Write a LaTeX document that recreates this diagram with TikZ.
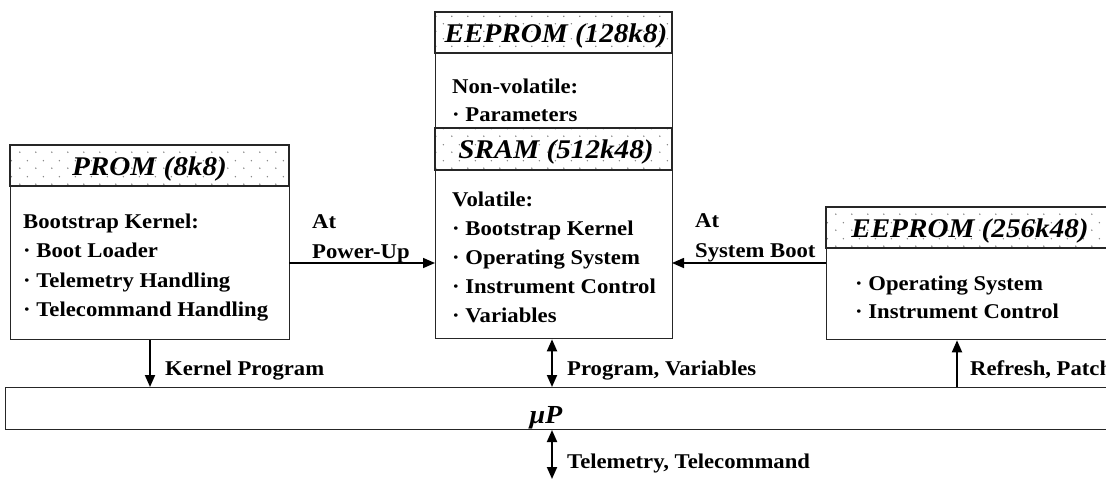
\documentclass[tikz,border=0pt]{standalone}
\usepackage{fontspec}
\setmainfont{Liberation Serif}[FakeStretch=1.08]
\usetikzlibrary{patterns.meta,arrows.meta}
\tikzdeclarepattern{
  name=hdrdots,
  type=uncolored,
  bottom left={(0pt,0pt)},
  top right={(16pt,15.4pt)},
  tile size={(16pt,15.4pt)},
  code={\fill (4pt,3.85pt) circle (0.8pt); \fill (12pt,11.55pt) circle (0.8pt);}
}
\tikzset{
  boxline/.style={draw=black!85, line width=1.3pt},
  hdr/.style={boxline, pattern={hdrdots}, pattern color=black!50},
  hdrtext/.style={font=\fontsize{27}{30}\selectfont\bfseries\itshape, inner sep=0pt, anchor=base},
  bodytext/.style={font=\fontsize{21}{28.8}\selectfont\bfseries, align=left, inner sep=0pt, anchor=base west},
  lbl/.style={font=\fontsize{21}{30}\selectfont\bfseries, align=left, inner sep=0pt, anchor=base west},
  arr/.style={line width=1.9pt, -{Triangle[length=12pt,width=10pt]}},
  darr/.style={line width=1.9pt, {Triangle[length=12pt,width=10pt]}-{Triangle[length=12pt,width=10pt]}},
}
\begin{document}
\begin{tikzpicture}[x=1pt,y=-1pt]
\path[use as bounding box] (0,0) rectangle (1106,480);
\clip (0,0) rectangle (1106,480);
\fill[white] (0,0) rectangle (1106,480);
% PROM
\path[hdr] (10,145) rectangle (289,186);
\node[hdrtext] (promh) at (149.5,175) {PROM (8k8)};
\node[boxline, minimum width=279pt, minimum height=153pt, anchor=north west, inner sep=0pt] (prom) at (10,186) {};
\node[bodytext, font=\fontsize{21}{29.6}\selectfont\bfseries] (promt) at (23,316.8) {Bootstrap Kernel:\\· Boot Loader\\· Telemetry Handling\\· Telecommand Handling};
% EEPROM 128k8
\path[hdr] (435,12) rectangle (672,53);
\node[hdrtext] (ee1h) at (556,42) {EEPROM (128k8)};
\node[boxline, minimum width=237pt, minimum height=75pt, anchor=north west, inner sep=0pt] (ee1) at (435,53) {};
\node[bodytext, font=\fontsize{21}{28}\selectfont\bfseries] (ee1t) at (452,121) {Non-volatile:\\· Parameters};
% SRAM
\path[hdr] (435,128) rectangle (672,170);
\node[hdrtext] (sramh) at (556,158) {SRAM (512k48)};
\node[boxline, minimum width=237pt, minimum height=168pt, anchor=north west, inner sep=0pt] (sram) at (435,170) {};
\node[bodytext] (sramt) at (452,322) {Volatile:\\· Bootstrap Kernel\\· Operating System\\· Instrument Control\\· Variables};
% EEPROM 256k48
\path[hdr] (826,207) rectangle (1116,248);
\node[hdrtext] (ee2h) at (970,237) {EEPROM (256k48)};
\node[boxline, minimum width=290pt, minimum height=91pt, anchor=north west, inner sep=0pt] (ee2) at (826,248) {};
\node[bodytext, font=\fontsize{21}{28}\selectfont\bfseries] (ee2t) at (855,318) {· Operating System\\· Instrument Control};
% uP bar
\node[draw=black!85, line width=1pt, minimum width=1111pt, minimum height=42pt, anchor=north west, inner sep=0pt] (up) at (5,387) {};
\node[font=\fontsize{26}{28}\selectfont\bfseries\itshape, inner sep=0pt, anchor=base] (upt) at (546,423) {μP};
% connectors
\coordinate (pw) at (289,263);
\coordinate (pwe) at (435,263);
\draw[arr, line width=1.6pt] (pw) -- (pwe);
\node[lbl] (pwl) at (312,258) {At\\Power-Up};
\coordinate (sb) at (826,263);
\coordinate (sbe) at (672,263);
\draw[arr, line width=1.6pt] (sb) -- (sbe);
\node[lbl] (sbl) at (695,257) {At\\System Boot};
\draw[arr] (prom.south -| 150,0) -- (up.north -| 150,0);
\node[lbl] (kpl) at (165,375) {Kernel Program};
\draw[darr] (sram.south -| 552,0) -- (up.north -| 552,0);
\node[lbl] (pvl) at (567,375) {Program, Variables};
\draw[arr] (up.north -| 957,0) -- (ee2.south -| 957,0);
\node[lbl] (rpl) at (970,375) {Refresh, Patch};
\coordinate (tm) at (552,479);
\draw[darr] (up.south -| 552,0) -- (tm);
\node[lbl] (tml) at (567,468) {Telemetry, Telecommand};
\end{tikzpicture}
\end{document}
